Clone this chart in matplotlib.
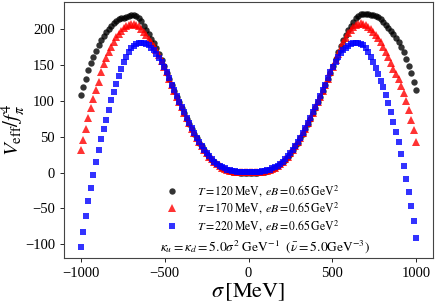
import numpy as np
import matplotlib
matplotlib.use("Agg")
import matplotlib.pyplot as plt

plt.rcParams['font.family'] = 'serif'
plt.rcParams['font.serif'] = ['Liberation Serif', 'DejaVu Serif']
plt.rcParams['mathtext.fontset'] = 'stix'

# sigma grid [MeV]
sigma = np.linspace(-1000, 1000, 134)

# V_eff / f_pi^4, T = 120 MeV
v_t120 = [
    108, 119, 131, 143, 153, 162, 170, 178, 185, 191, 196, 201, 205, 209, 212, 214.5, 216,
    216.5, 217, 218, 219.5, 220, 219, 216, 211, 205, 199, 193, 187, 180.5, 174, 166, 157.5, 148.5,
    139.5, 130.5, 122, 114, 105.5, 98, 90.5, 83, 75.5, 68.5, 61, 54.5, 48, 42, 36.5, 31, 26.5,
    22, 18, 14.5, 11.5, 8.7, 6.5, 4.8, 3.2, 2.2, 1.4, 0.8, 0.4, 0.2, 0.1, 0, 0,
    0, 0, 0.1, 0.2, 0.4, 0.8, 1.4, 2.2, 3.2, 4.8, 6.5, 8.7, 11.5, 14.5, 18, 22, 26.5,
    31, 36.5, 42, 48, 54.5, 61, 68.5, 75.5, 83, 90.5, 98, 105.5, 114, 122, 130.5, 139.5,
    149, 158.5, 168, 177, 185.5, 192.5, 199, 205, 210.5, 215.5, 219, 221, 222, 222, 221, 220, 219.5,
    219, 217, 214, 210, 205.5, 201.5, 197.5, 193, 188.5, 183, 176, 168, 159, 149.5, 139, 127, 116,
]

# T = 170 MeV
v_t170 = [
    32, 46, 61, 76, 90, 103, 115, 127, 140, 151, 160, 168, 176, 183, 189, 194, 198,
    201.5, 204, 206, 207, 207, 206, 204, 200, 196, 191.5, 187, 182, 176.5, 170.5, 164, 156, 147.5,
    140, 131, 122.5, 114.5, 106, 98.5, 91, 83.5, 76, 69, 61.5, 55, 48.5, 42.5, 37, 31.5, 27,
    22.5, 18.5, 15, 12, 9.2, 7, 5.3, 3.7, 2.7, 1.9, 1.3, 0.9, 0.7, 0.6, 0.5, 0.5,
    0.5, 0.5, 0.6, 0.7, 0.9, 1.3, 1.9, 2.7, 3.7, 5.3, 7, 9.2, 12, 15, 18.5, 22.5, 27,
    31.5, 37, 42.5, 48.5, 55, 61.5, 69, 76, 83.5, 91, 98.5, 106, 114.5, 122.5, 131, 140,
    148, 157, 166, 174.5, 182, 188.5, 194.5, 199, 203, 205.5, 207.5, 208.5, 208, 206, 203, 200, 196.5,
    192.5, 188, 182, 176, 169, 161, 153, 145, 137, 130, 121.5, 111.5, 100, 88, 74, 59, 43,
]

# T = 220 MeV
v_t220 = [
    -104, -83, -61, -40, -21, -3, 15, 32, 47, 61, 74, 88, 101, 113, 124, 135, 145,
    154, 162, 168.5, 173.5, 177, 179.5, 181, 181, 180.5, 179.5, 177.5, 174.5, 170.5, 165.5, 160, 154, 147,
    140, 131.5, 123, 115, 106.5, 99, 91.5, 84, 76.5, 69.5, 62, 55.5, 49, 43, 37.5, 32, 27.5,
    23, 19, 15.5, 12.5, 9.7, 7.5, 5.8, 4.2, 3.2, 2.4, 1.8, 1.4, 1.2, 1.1, 1, 1,
    1, 1, 1.1, 1.2, 1.4, 1.8, 2.4, 3.2, 4.2, 5.8, 7.5, 9.7, 12.5, 15.5, 19, 23, 27.5,
    32, 37.5, 43, 49, 55.5, 62, 69.5, 76.5, 84, 91.5, 99, 106.5, 115, 123, 131.5, 140,
    147.5, 154.5, 161, 166.5, 171, 174.5, 177, 179, 180.5, 181, 181, 180, 178, 174.5, 169, 162, 154,
    145.5, 137, 128.5, 119.5, 109, 97, 84, 70.5, 57, 42.5, 26.5, 9, -8.5, -26.5, -46, -68, -91,
]

labels = [r'$T=120\,\mathrm{MeV},\;eB=0.65\,\mathrm{GeV}^2$',
          r'$T=170\,\mathrm{MeV},\;eB=0.65\,\mathrm{GeV}^2$',
          r'$T=220\,\mathrm{MeV},\;eB=0.65\,\mathrm{GeV}^2$']

fig = plt.figure(figsize=(4.36, 3.02), dpi=100)
ax = fig.add_axes([0.147, 0.146, 0.846, 0.847])

ax.plot(sigma, v_t120, 'o', color='k', alpha=0.8, ms=4.6, mew=0, label=labels[0])
ax.plot(sigma, v_t170, '^', color='r', alpha=0.8, ms=5.2, mew=0, label=labels[1])
ax.plot(sigma, v_t220, 's', color='b', alpha=0.8, ms=4.4, mew=0, label=labels[2])

ax.set_xlim(-1100, 1100)
ax.set_ylim(-119, 238)
ax.set_xticks([-1000, -500, 0, 500, 1000])
ax.set_yticks([-100, -50, 0, 50, 100, 150, 200])
ax.tick_params(labelsize=10.5, length=3, width=0.6)
for s in ax.spines.values():
    s.set_color('#444444')
    s.set_linewidth(0.8)

ax.set_xlabel(r'$\sigma\,[\mathrm{MeV}]$', fontsize=16, labelpad=1)
ax.set_ylabel(r'$V_{\mathrm{eff}}/f_\pi^4$', fontsize=15)
ax.yaxis.set_label_coords(-0.1, 0.5)

ax.legend(loc='lower left', bbox_to_anchor=(0.26, 0.075), frameon=False, fontsize=8.5,
          handletextpad=1.5, labelspacing=0.15, handlelength=1.2, borderaxespad=0)
ax.text(0.545, 0.043, r'$\kappa_u=\kappa_d=5.0\sigma^2\ \mathrm{GeV}^{-1}\ \ (\bar{\nu}=5.0\mathrm{GeV}^{-3})$',
        transform=ax.transAxes, ha='center', va='center', fontsize=9.7)

fig.savefig('out.png', dpi=100)
